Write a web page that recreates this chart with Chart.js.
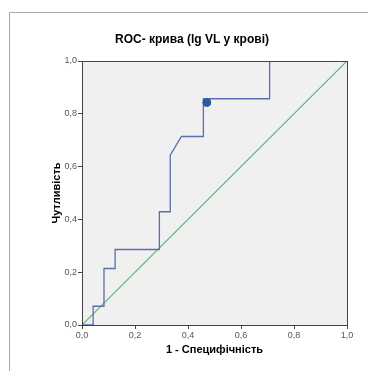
<!DOCTYPE html>
<html>
<head>
<meta charset="utf-8">
<script src="https://cdn.jsdelivr.net/npm/chart.js@4.4.1/dist/chart.umd.min.js"></script>
<style>
  html,body{margin:0;padding:0;background:#fff;}
  #wrap{width:368px;height:371px;position:relative;}
</style>
</head>
<body>
<div id="wrap"><canvas id="roc"></canvas></div>
<script>
// ROC curve (1 - specificity vs sensitivity)
const fpr = [0, 0.042, 0.042, 0.083, 0.083, 0.125, 0.125, 0.292, 0.292, 0.333, 0.333, 0.375, 0.458, 0.458, 0.708, 0.708, 1.0];
const tpr = [0, 0, 0.071, 0.071, 0.214, 0.214, 0.286, 0.286, 0.429, 0.429, 0.643, 0.714, 0.714, 0.857, 0.857, 1.0, 1.0];
const refX = [0, 1];
const refY = [0, 1];
const cutX = [0.471];
const cutY = [0.843];
const tickVals = [0, 0.2, 0.4, 0.6, 0.8, 1.0];

const titleText = 'ROC- крива (lg VL у крові)';
const xTitle = '1 - Специфічність';
const yTitle = 'Чутливість';

const zip = (xs, ys) => xs.map((x, i) => ({ x, y: ys[i] }));
const fmt = v => v.toFixed(1).replace('.', ',');
const font = 'Arial, "Liberation Sans", sans-serif';

const frame = {
  id: 'frame',
  beforeDraw(chart){
    const { ctx, chartArea: a } = chart;
    ctx.save();
    ctx.strokeStyle = '#a8a8a8'; ctx.lineWidth = 1;
    ctx.beginPath(); ctx.moveTo(9.5, 371); ctx.lineTo(9.5, 12.5); ctx.lineTo(368, 12.5); ctx.stroke();
    ctx.fillStyle = '#f0f0f0';
    ctx.fillRect(a.left, a.top, a.right - a.left, a.bottom - a.top);
    // chart title (SPSS places it a bit right of the canvas centre)
    ctx.fillStyle = '#000';
    ctx.font = 'bold 12px ' + font;
    ctx.textAlign = 'center'; ctx.textBaseline = 'middle';
    ctx.fillText(titleText, 192, 40);
    ctx.restore();
  },
  afterDatasetsDraw(chart){
    const { ctx, chartArea: a } = chart;
    ctx.save();
    ctx.strokeStyle = '#444'; ctx.lineWidth = 1;
    ctx.strokeRect(Math.round(a.left) + 0.5, Math.round(a.top) + 0.5, Math.round(a.right - a.left), Math.round(a.bottom - a.top));
    ctx.restore();
  }
};

new Chart(document.getElementById('roc'), {
  type: 'scatter',
  data: {
    datasets: [
      { data: zip(refX, refY), showLine: true, borderColor: '#5cb46e', borderWidth: 1.2, pointRadius: 0, order: 3 },
      { data: zip(fpr, tpr), showLine: true, borderColor: '#5b6db3', borderWidth: 1.3, pointRadius: 0, order: 2 },
      { data: zip(cutX, cutY), showLine: false, pointRadius: 4, backgroundColor: '#2c5a9e', borderColor: '#2c5a9e', order: 1 }
    ]
  },
  options: {
    responsive: true, maintainAspectRatio: false, animation: false,
    layout: { padding: { top: 61, left: 0, right: 21, bottom: 0 } },
    plugins: {
      legend: { display: false }, tooltip: { enabled: false }, title: { display: false }
    },
    scales: {
      x: {
        type: 'linear', min: 0, max: 1,
        afterBuildTicks: s => { s.ticks = tickVals.map(v => ({ value: v })); },
        afterFit: s => { s.height = 46; },
        grid: { drawOnChartArea: false, drawTicks: true, tickLength: 4, color: '#444' },
        border: { display: true, color: '#444' },
        ticks: { callback: fmt, color: '#555', font: { family: font, size: 9 }, padding: 1, maxRotation: 0 },
        title: { display: true, text: xTitle, color: '#000', font: { family: font, size: 11, weight: 'bold' }, padding: { top: 0, bottom: 14 } }
      },
      y: {
        type: 'linear', min: 0, max: 1,
        afterBuildTicks: s => { s.ticks = tickVals.map(v => ({ value: v })); },
        afterFit: s => { s.width = 82; },
        grid: { drawOnChartArea: false, drawTicks: true, tickLength: 4, color: '#444' },
        border: { display: true, color: '#444' },
        ticks: { callback: fmt, color: '#555', font: { family: font, size: 9 }, padding: 1 },
        title: { display: true, text: yTitle, color: '#000', font: { family: font, size: 11, weight: 'bold' }, padding: { top: 50, bottom: 0 } }
      }
    }
  },
  plugins: [frame]
});
</script>
</body>
</html>
